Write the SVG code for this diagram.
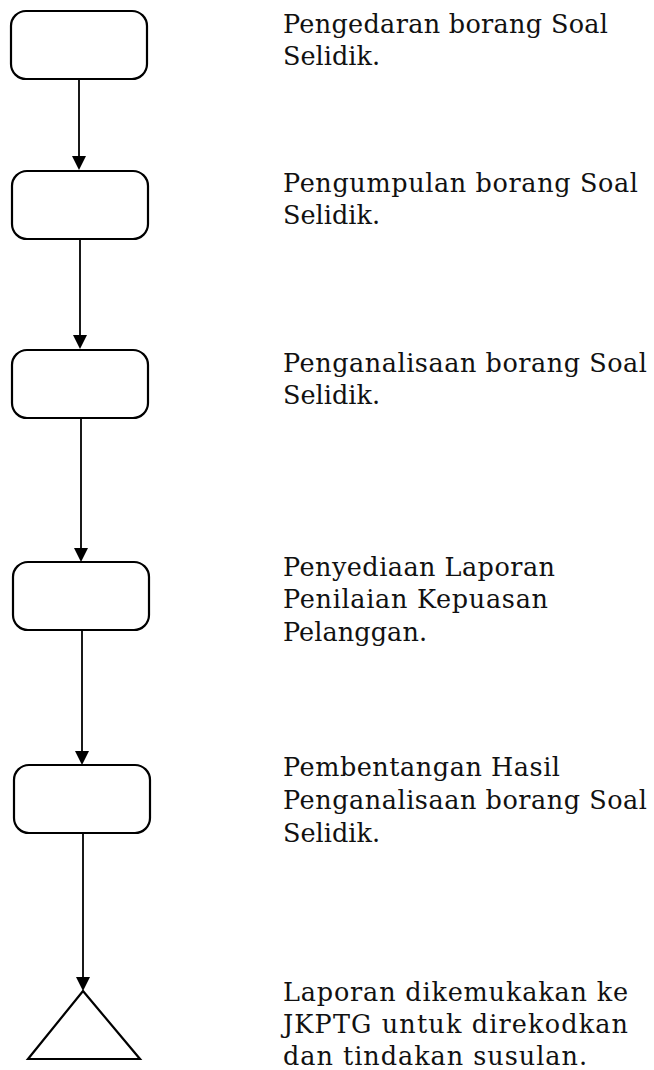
<svg xmlns="http://www.w3.org/2000/svg" width="654" height="1070" viewBox="0 0 654 1070">
<style>
.box{fill:#fff;stroke:#000;stroke-width:2.2}
.con{stroke:#000;stroke-width:1.8;fill:none}
.t{font-family:"DejaVu Serif","Liberation Serif",serif;font-size:25.5px;fill:#111}
</style>
<g id="connectors">
<line class="con" x1="79" y1="79" x2="79" y2="156"/><path d="M72,156 L86,156 L79,170 Z"/>
<line class="con" x1="80" y1="239" x2="80" y2="335"/><path d="M73,335 L87,335 L80,349 Z"/>
<line class="con" x1="81" y1="418" x2="81" y2="548"/><path d="M74,548 L88,548 L81,562 Z"/>
<line class="con" x1="82" y1="630" x2="82" y2="751"/><path d="M75,751 L89,751 L82,765 Z"/>
<line class="con" x1="83" y1="833" x2="83" y2="977"/><path d="M76,977 L90,977 L83,991 Z"/>
</g>
<g id="n1"><rect class="box" x="11" y="11" width="136" height="68" rx="15"/></g>
<g id="n2"><rect class="box" x="12" y="171" width="136" height="68" rx="15"/></g>
<g id="n3"><rect class="box" x="12" y="350" width="136" height="68" rx="15"/></g>
<g id="n4"><rect class="box" x="13" y="562" width="136" height="68" rx="15"/></g>
<g id="n5"><rect class="box" x="14" y="765" width="136" height="68" rx="15"/></g>
<g id="n6"><path class="box" d="M83,991 L140,1059 L28,1059 Z"/></g>
<g id="labels">
<text class="t" x="283" y="33" textLength="325">Pengedaran borang Soal</text>
<text class="t" x="283" y="65" textLength="97">Selidik.</text>
<text class="t" x="283" y="192" textLength="355">Pengumpulan borang Soal</text>
<text class="t" x="283" y="224" textLength="97">Selidik.</text>
<text class="t" x="283" y="372" textLength="364">Penganalisaan borang Soal</text>
<text class="t" x="283" y="404" textLength="97">Selidik.</text>
<text class="t" x="283" y="576" textLength="272">Penyediaan Laporan</text>
<text class="t" x="283" y="608" textLength="265">Penilaian Kepuasan</text>
<text class="t" x="283" y="641" textLength="144">Pelanggan.</text>
<text class="t" x="283" y="776" textLength="277">Pembentangan Hasil</text>
<text class="t" x="283" y="809" textLength="364">Penganalisaan borang Soal</text>
<text class="t" x="283" y="842" textLength="97">Selidik.</text>
<text class="t" x="283" y="1001" textLength="345">Laporan dikemukakan ke</text>
<text class="t" x="283" y="1033" textLength="345">JKPTG untuk direkodkan</text>
<text class="t" x="283" y="1065" textLength="304">dan tindakan susulan.</text>
</g>
</svg>
